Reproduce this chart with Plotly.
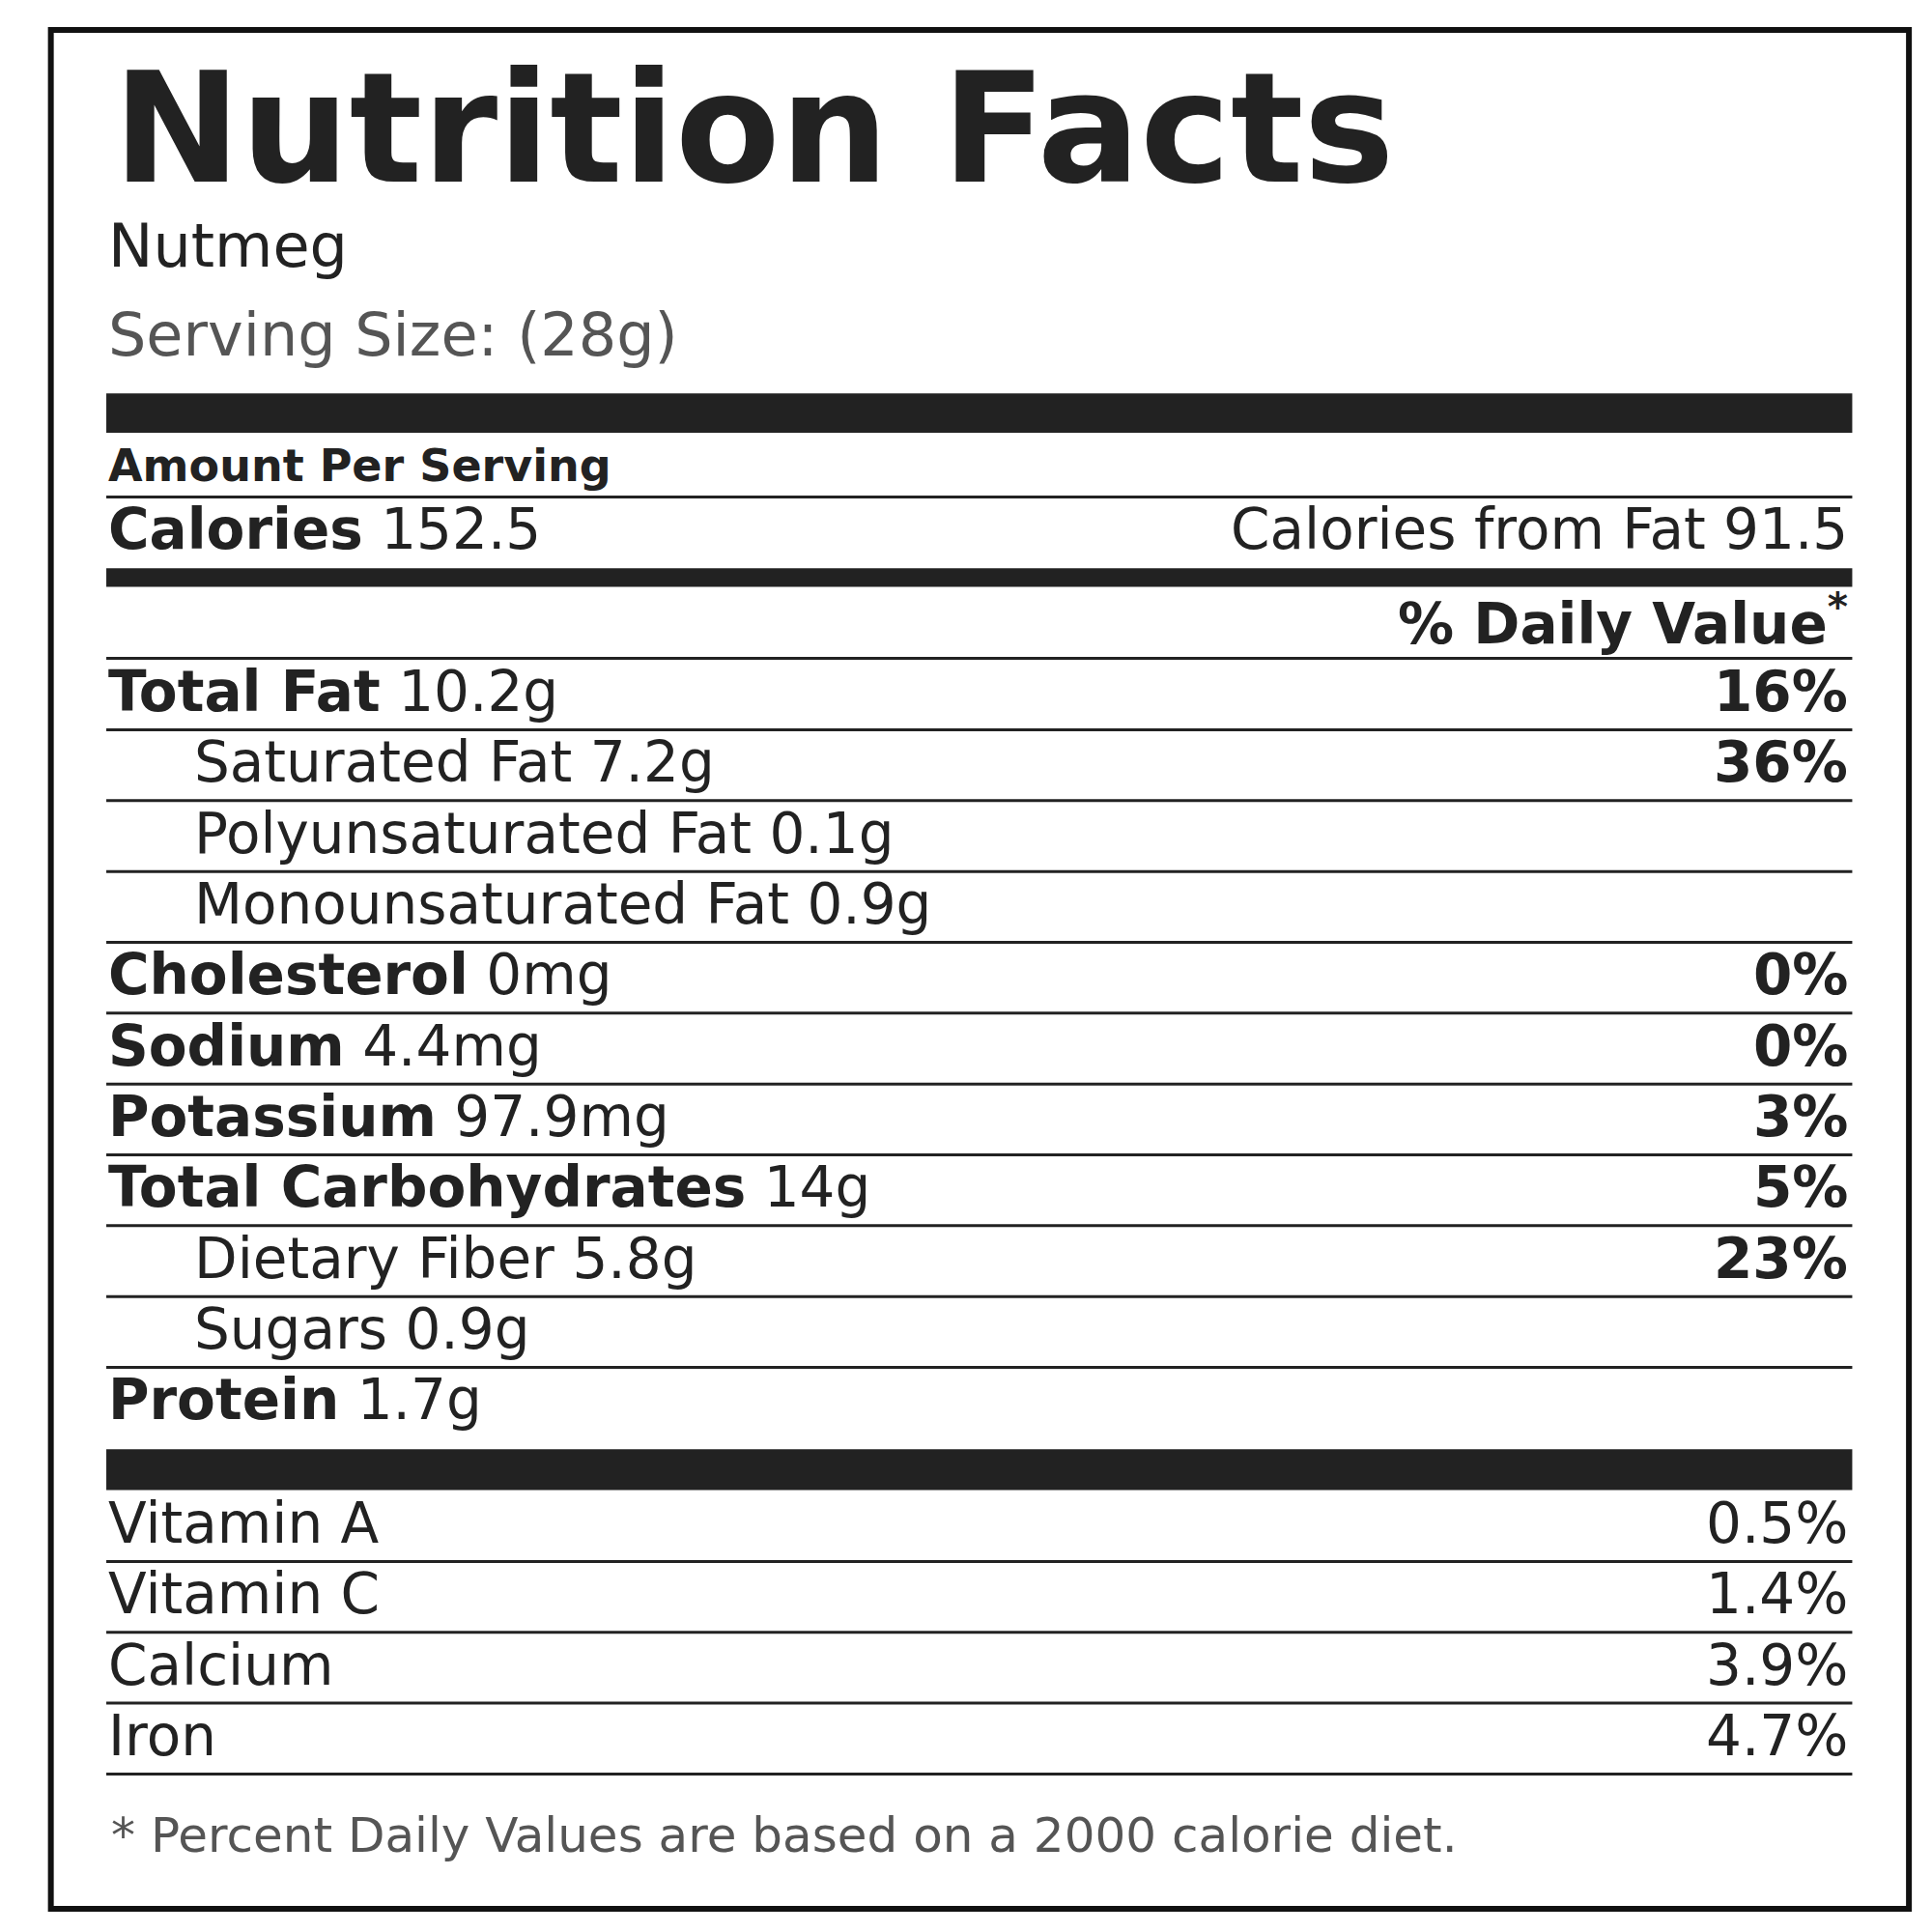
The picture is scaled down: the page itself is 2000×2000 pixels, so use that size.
import plotly.graph_objects as go

title = "Nutrition Facts"
food = "Nutmeg"
serving = "Serving Size: (28g)"
calories = "152.5"
calories_fat = "91.5"
labels = ["Total Fat", "Saturated Fat", "Polyunsaturated Fat", "Monounsaturated Fat",
          "Cholesterol", "Sodium", "Potassium", "Total Carbohydrates", "Dietary Fiber",
          "Sugars", "Protein"]
amounts = ["10.2g", "7.2g", "0.1g", "0.9g", "0mg", "4.4mg", "97.9mg", "14g", "5.8g", "0.9g", "1.7g"]
daily = ["16%", "36%", "", "", "0%", "0%", "3%", "5%", "23%", "", ""]
sub = [False, True, True, True, False, False, False, False, True, True, False]
vitamins = ["Vitamin A", "Vitamin C", "Calcium", "Iron"]
vit_dv = ["0.5%", "1.4%", "3.9%", "4.7%"]
footnote = "* Percent Daily Values are based on a 2000 calorie diet."

S = 1568.0
def X(p): return p / S
def Y(p): return 1 - p / S

FONT = "DejaVu Sans"
C = "#222"
shapes, ann = [], []
def bar(y0, y1):
    shapes.append(dict(type="rect", xref="paper", yref="paper", x0=X(80), x1=X(1497),
                       y0=Y(y1), y1=Y(y0), fillcolor=C, line=dict(width=0)))
def line(y):
    shapes.append(dict(type="line", xref="paper", yref="paper", x0=X(80), x1=X(1497),
                       y0=Y(y), y1=Y(y), line=dict(color=C, width=3)))
def text(x, y, t, size, anchor="left", color=C):
    ann.append(dict(x=X(x), y=Y(y), xref="paper", yref="paper", text=t, showarrow=False,
                    xanchor=anchor, yanchor="middle", font=dict(family=FONT, size=size, color=color)))

shapes.append(dict(type="rect", xref="paper", yref="paper", x0=X(35), x1=X(1543), y0=Y(1543), y1=Y(18),
                   line=dict(color="#111", width=6), fillcolor="white"))
text(84, 98, "<b>" + title + "</b>", 158)
text(80, 193, food, 62)
text(80, 265, serving, 62, color="#555")
bar(313, 345)
text(80, 372, "<b>Amount Per Serving</b>", 46)
line(397)
text(80, 423, "<b>Calories</b> " + calories, 58)
text(1495, 423, "Calories from Fat " + calories_fat, 58, "right")
bar(455, 470)
text(1495, 497, "<b>% Daily Value<sup>*</sup></b>", 58, "right")
line(528)
y = 555
for i, (l, a, d, s) in enumerate(zip(labels, amounts, daily, sub)):
    if s:
        text(150, y, l + " " + a, 58)
    else:
        text(80, y, "<b>" + l + "</b> " + a, 58)
    if d:
        text(1495, y, "<b>" + d + "</b>", 58, "right")
    if i < len(labels) - 1:
        line(y + 31)
    y += 57.5
bar(1170, 1203)
y = 1230
for v, d in zip(vitamins, vit_dv):
    text(80, y, v, 58)
    text(1495, y, d, 58, "right")
    line(y + 31)
    y += 57.5
text(82, 1483, footnote, 50, color="#555")

fig = go.Figure()
fig.update_layout(width=2000, height=2000, margin=dict(l=0, r=0, t=0, b=0),
                  paper_bgcolor="white", plot_bgcolor="white",
                  xaxis=dict(visible=False), yaxis=dict(visible=False),
                  shapes=shapes, annotations=ann)
fig.write_html("out.html")
